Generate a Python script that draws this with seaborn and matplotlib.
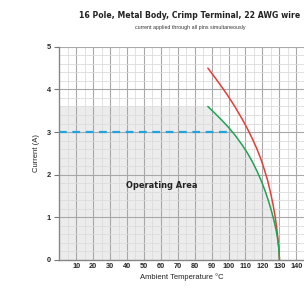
import numpy as np
import pandas as pd
import matplotlib
matplotlib.use('Agg')
import matplotlib.pyplot as plt
import seaborn as sns
from matplotlib.ticker import MultipleLocator

# curve points
temp_red = [87.8, 92, 96, 100, 104, 108, 111, 114, 116.5, 119, 121, 123, 124.7, 126.2,
            127.5, 128.5, 129.3, 129.8, 130.1]
curr_red = [4.50, 4.28, 4.06, 3.83, 3.58, 3.31, 3.09, 2.85, 2.63, 2.38, 2.14, 1.88, 1.60, 1.32,
            1.03, 0.74, 0.46, 0.24, 0.0]
temp_green = [87.8, 92, 96, 100, 104, 108, 111, 114, 117, 119.5, 121.8, 123.8, 125.5, 127,
              128.2, 129.1, 129.7, 130.1]
curr_green = [3.60, 3.44, 3.28, 3.11, 2.92, 2.70, 2.52, 2.31, 2.07, 1.84, 1.60, 1.36, 1.13, 0.90,
              0.68, 0.47, 0.28, 0.0]
operating_limit = 3.0
x_ticks = [10, 20, 30, 40, 50, 60, 70, 80, 90, 100, 110, 120, 130, 140]
y_ticks = [0, 1, 2, 3, 4, 5]

red = pd.DataFrame({'temp': temp_red, 'current': curr_red})
green = pd.DataFrame({'temp': temp_green, 'current': curr_green})

sns.set_style('white')
plt.rcParams['font.family'] = ['Liberation Sans', 'DejaVu Sans']

fig = plt.figure(figsize=(3.04, 2.91), dpi=100)
ax = fig.add_axes([0.195, 0.107, 0.805, 0.732])

# grey operating area: box up to the start of the green curve, then under it
area_x = [0] + temp_green
area_y = [curr_green[0]] + curr_green
ax.fill_between(area_x, 0, area_y, color='#ececec', lw=0, zorder=0)

ax.xaxis.set_minor_locator(MultipleLocator(5))
ax.yaxis.set_minor_locator(MultipleLocator(0.2))
ax.grid(which='minor', color='#dcdcdc', lw=0.6, zorder=1)
ax.grid(which='major', color='#a8a8a8', lw=0.8, zorder=1)
ax.set_axisbelow(True)

sns.lineplot(data=red, x='temp', y='current', color='#ee3a36', lw=1.1, ax=ax, zorder=3)
sns.lineplot(data=green, x='temp', y='current', color='#1ea551', lw=1.1, ax=ax, zorder=3)

# where the 3 A line meets the green curve
x_cross = np.interp(-operating_limit, [-c for c in curr_green], temp_green)
ax.plot([0, x_cross], [operating_limit, operating_limit], color='#1ea5e0', lw=1.6,
        dashes=(3.5, 2.5), zorder=4)

ax.text(60.5, 1.75, 'Operating Area', fontsize=6.6, fontweight='bold', ha='center',
        va='center', color='#222222', fontstretch='condensed', family='DejaVu Sans')

ax.set_xlim(0, 144.6)
ax.set_ylim(0, 5)
ax.set_xticks(x_ticks)
ax.set_yticks(y_ticks)
ax.set_xticklabels([str(t) for t in x_ticks], fontsize=5.3, fontweight='bold')
ax.set_yticklabels([str(t) for t in y_ticks], fontsize=5.3, fontweight='bold')
ax.tick_params(axis='x', length=0, pad=2)
ax.tick_params(axis='y', length=3.5, width=0.8, color='#777777', pad=2.5, left=True)
ax.set_xlabel('Ambient Temperature °C', fontsize=5.5, labelpad=3, color='#222222')
ax.set_ylabel('Current (A)', fontsize=5.5, labelpad=5, color='#222222')

for s in ['top', 'right']:
    ax.spines[s].set_visible(False)
for s in ['left', 'bottom']:
    ax.spines[s].set_color('#888888')
    ax.spines[s].set_linewidth(1.0)

fig.text(0.623, 0.948, '16 Pole, Metal Body, Crimp Terminal, 22 AWG wire', fontsize=6.2,
         fontweight='bold', ha='center', va='center', color='#222222',
         fontstretch='condensed', family='DejaVu Sans')
fig.text(0.625, 0.904, 'current applied through all pins simultaneously', fontsize=3.8,
         ha='center', va='center', color='#333333')

fig.savefig('out.png', dpi=100)
